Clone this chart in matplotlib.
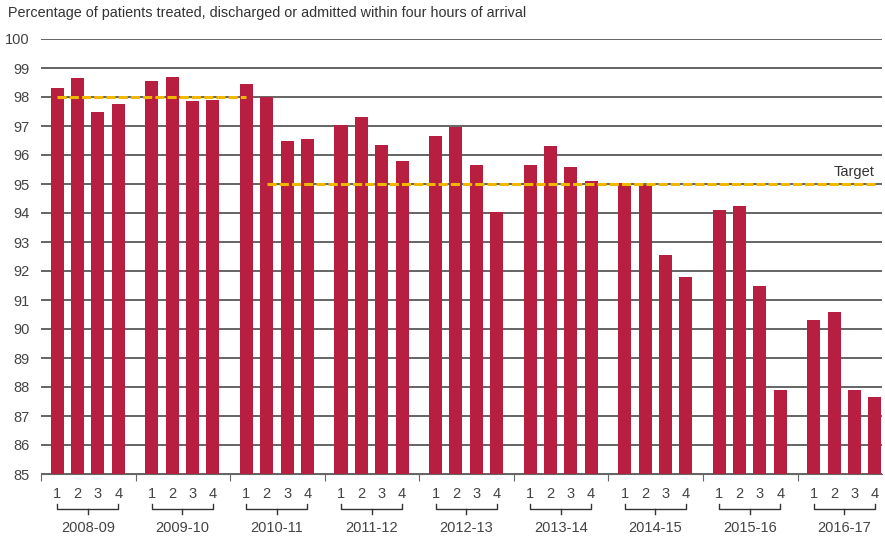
import matplotlib.pyplot as plt
import matplotlib.transforms as mtransforms
import numpy as np

plt.rcParams['font.family'] = ['Liberation Sans', 'DejaVu Sans']

years = ['2008-09', '2009-10', '2010-11', '2011-12', '2012-13',
         '2013-14', '2014-15', '2015-16', '2016-17']
quarters = ['1', '2', '3', '4']

# quarterly performance, one list per financial year
q_values = [
    [98.3, 98.65, 97.5, 97.75],
    [98.55, 98.7, 97.85, 97.9],
    [98.45, 98.0, 96.5, 96.55],
    [97.05, 97.3, 96.35, 95.8],
    [96.65, 96.95, 95.65, 94.05],
    [95.65, 96.3, 95.6, 95.1],
    [95.05, 94.95, 92.55, 91.8],
    [94.1, 94.25, 91.5, 87.9],
    [90.3, 90.6, 87.9, 87.65],
]

# target level and the bars it runs between (year index, quarter index)
target_old = 98
target_new = 95
old_span = [(0, 0), (2, 0)]
new_span = [(2, 1), (8, 3)]

bar_color = '#B71E3F'
target_color = '#F2B800'
text_color = '#444444'

group_w = 4.65
first_off = 0.8
bar_w = 0.64


def xpos(g, q):
    return g * group_w + first_off + q


fig = plt.figure(figsize=(8.85, 5.36), dpi=100)
ax = fig.add_axes([41 / 885, 62 / 536, 841 / 885, 435 / 536])

# bars
for g, vals in enumerate(q_values):
    xs = [xpos(g, q) for q in range(len(quarters))]
    ax.bar(xs, np.array(vals) - 85, bar_w, bottom=85, color=bar_color, zorder=3)

ax.set_ylim(85, 100)
ax.set_xlim(0, 41.35)
ax.set_yticks(range(85, 101))
ax.tick_params(axis='y', length=0, pad=8, labelsize=10.5, labelcolor=text_color)
ax.yaxis.grid(True, color='#3a3a3a', linewidth=1.1, zorder=1)
ax.set_axisbelow(True)

for s in ['top', 'right', 'left']:
    ax.spines[s].set_visible(False)
ax.spines['bottom'].set_color('#666666')
ax.spines['bottom'].set_zorder(4)

ax.set_xticks([g * group_w for g in range(len(years))])
ax.set_xticklabels([])
ax.tick_params(axis='x', length=5, color='#666666', direction='out')

# target lines
x0 = xpos(*old_span[0])
x1 = xpos(*old_span[1])
ax.plot([x0, x1], [target_old, target_old], color=target_color, lw=2.2,
        dashes=(3, 1), zorder=5)
x0 = xpos(*new_span[0])
x1 = xpos(*new_span[1])
ax.plot([x0, x1], [target_new, target_new], color=target_color, lw=2.2,
        dashes=(3, 1), zorder=5)
ax.text(x1, target_new + 0.18, 'Target', ha='right', va='bottom',
        fontsize=10.5, color='#333333')

# quarter labels, brackets, year labels below the axis
trans = mtransforms.blended_transform_factory(ax.transData, ax.transAxes)
px = 1 / 435
for g, yr in enumerate(years):
    for q, ql in enumerate(quarters):
        ax.text(xpos(g, q), -20 * px, ql, transform=trans, ha='center',
                va='center', fontsize=10.5, color=text_color)
    xa = xpos(g, 0)
    xb = xpos(g, 3)
    xm = (xa + xb) / 2
    yb = -35 * px
    ax.plot([xa, xa, xb, xb], [yb + 5 * px, yb, yb, yb + 5 * px],
            transform=trans, color='#333333', lw=1, clip_on=False)
    ax.plot([xm, xm], [yb, yb - 5 * px], transform=trans,
            color='#333333', lw=1, clip_on=False)
    ax.text(xm, -54 * px, yr, transform=trans, ha='center', va='center',
            fontsize=10.5, color=text_color)

fig.text(8 / 885, 1 - 13 / 536,
         'Percentage of patients treated, discharged or admitted within four hours of arrival',
         ha='left', va='center', fontsize=10.4, color='#333333')

fig.savefig('out.png', dpi=100)
